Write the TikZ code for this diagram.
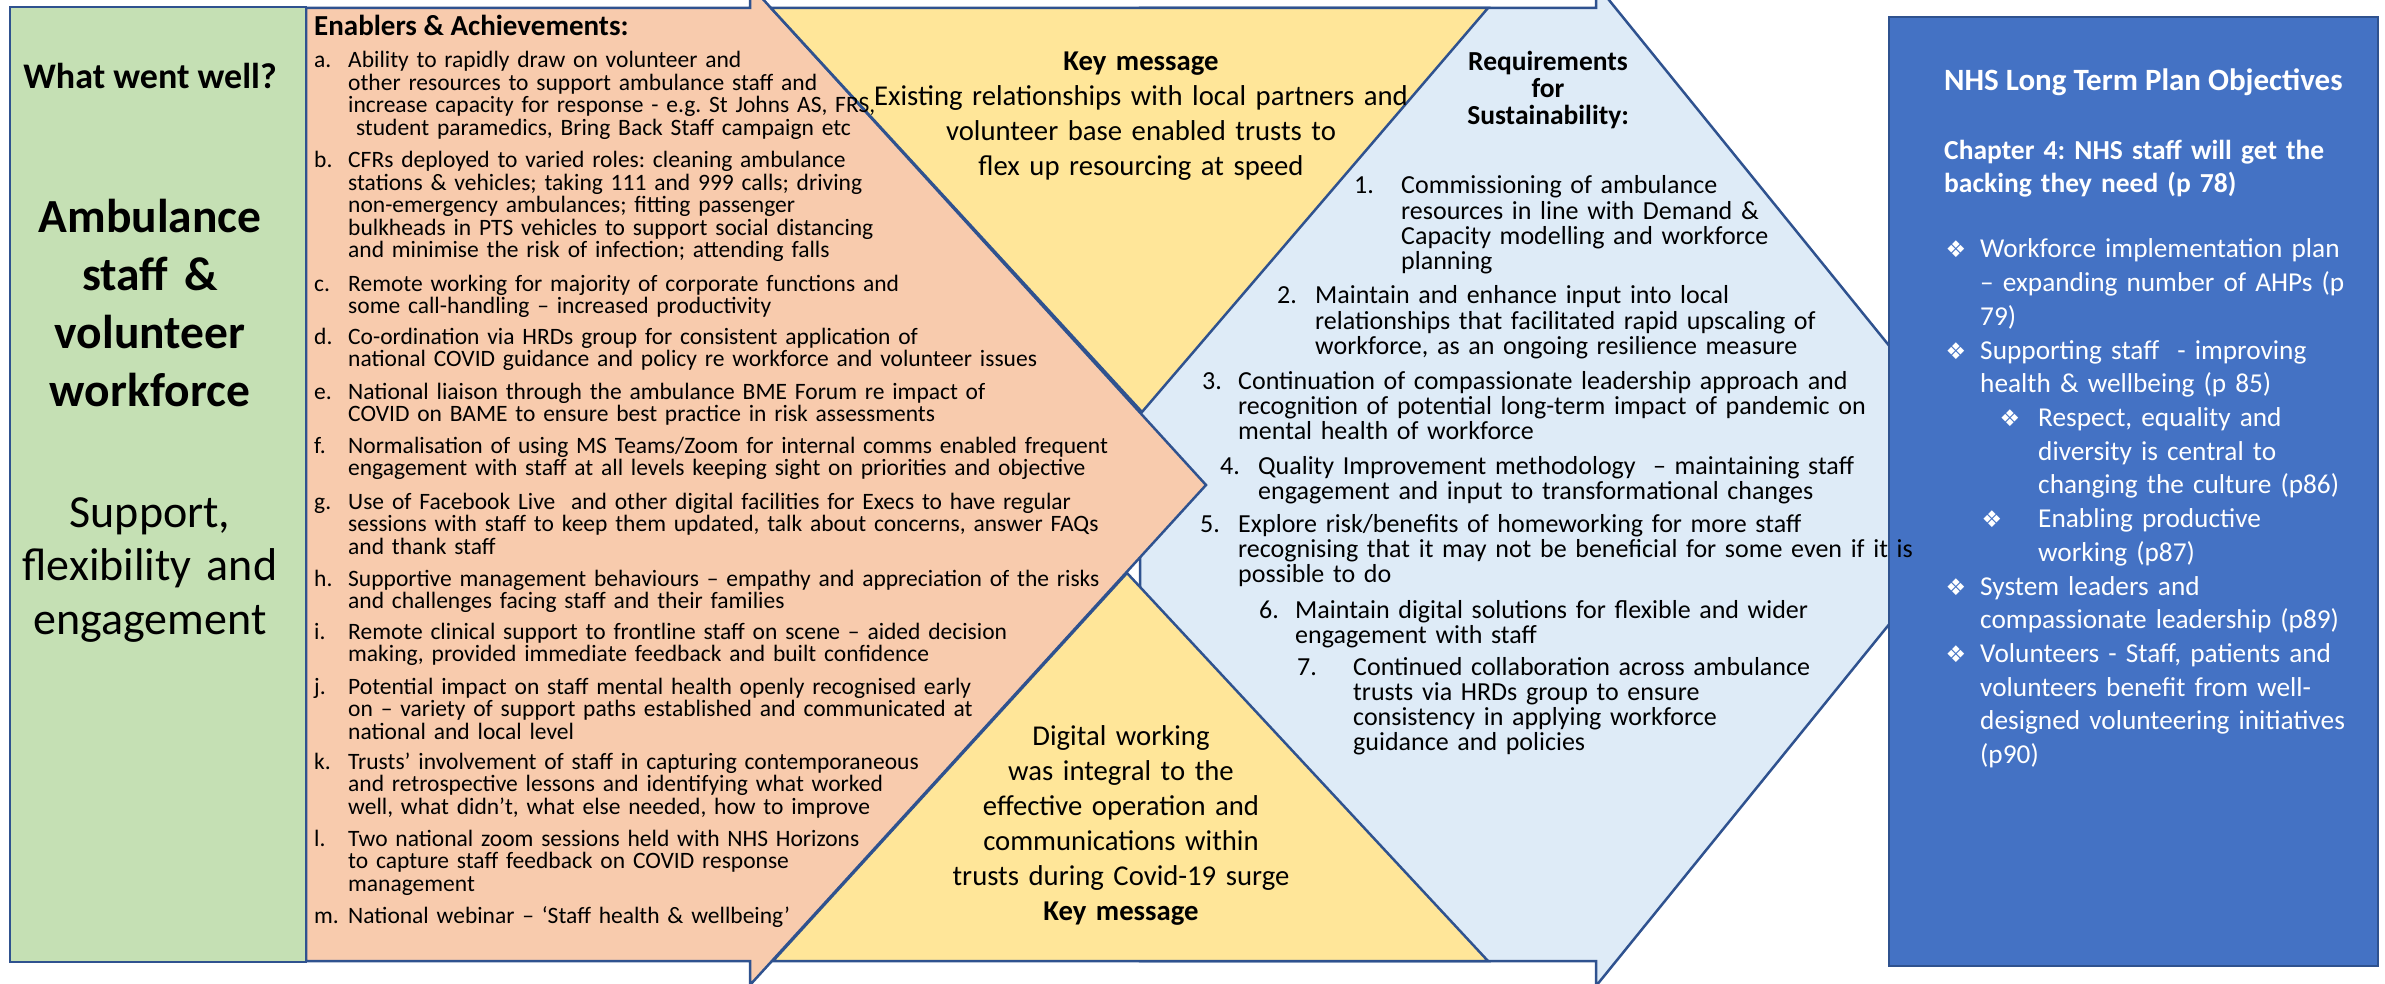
\documentclass[tikz,border=0pt]{standalone}
\usepackage{fontspec}
\setmainfont{Carlito}
\newfontfamily\dingfont{DejaVu Sans}
\usepackage{xcolor}
\usetikzlibrary{calc}
\definecolor{LeafGreen}{RGB}{197,224,180}
\definecolor{Peach}{RGB}{248,203,173}
\definecolor{Butter}{RGB}{255,230,153}
\definecolor{IceBlue}{RGB}{222,235,247}
\definecolor{NhsBlue}{RGB}{68,114,196}
\definecolor{EdgeBlue}{RGB}{47,82,143}
\lineskiplimit=-40pt
\frenchspacing

\begin{document}
\begin{tikzpicture}[x=1pt, y=-1pt,
		outline/.style={draw=EdgeBlue, line width=2.5pt, line join=miter},
		enlabel/.style={anchor=base west, inner sep=0pt, font=\fontsize{23.5}{22.5}\selectfont},
		enitem/.style={anchor=base west, text width=780pt, align=left, inner sep=0pt,
			font=\fontsize{23.5}{22.5}\selectfont},
		reqlabel/.style={anchor=base west, inner sep=0pt, font=\fontsize{26}{25.3}\selectfont},
		reqitem/.style={anchor=base west, text width=720pt, align=left, inner sep=0pt,
			font=\fontsize{26}{25.3}\selectfont},
		keytext/.style={anchor=base, text width=700pt, align=center, inner sep=0pt,
			font=\fontsize{28.7}{35}\selectfont},
		nhsitem/.style={anchor=base west, text width=420pt, align=left, inner sep=0pt, text=white,
			font=\fontsize{27.3}{33.7}\selectfont},
		nhsmark/.style={anchor=base, inner sep=0pt, text=white, font=\dingfont\fontsize{23}{24}\selectfont}
	]
		\useasboundingbox (0,0) rectangle (2385,984);
		\clip (0,0) rectangle (2385,984);
		
		\coordinate (BlueTip) at (2002,485);
		\coordinate (PeachTip) at (1206,485);
		
		\filldraw[outline, fill=IceBlue] (1140,8) -- (1596,8) -- (1596,-16) -- (BlueTip)
			-- (1596,986) -- (1596,961) -- (1140,961) -- cycle;
		\filldraw[outline, fill=Peach] (306,8) -- (750,8) -- (750,-15) -- (PeachTip)
			-- (750,985) -- (750,961) -- (306,961) -- cycle;
		\filldraw[outline, fill=Butter] (771,8) -- (1488,8) -- (1142,412) -- cycle;
		\filldraw[outline, fill=Butter] (773,961) -- (1488,961) -- (1127,573) -- cycle;
		\filldraw[outline, fill=LeafGreen] (10,7) rectangle (306,962);
		\filldraw[outline, fill=NhsBlue] (1889,17) rectangle (2378,966);
		
		\node[anchor=base, inner sep=0pt, font=\bfseries\fontsize{36}{40}\selectfont] (well) at (150,89) {What went well?};
		\node[anchor=base, text width=290pt, align=center, inner sep=0pt,
			font=\bfseries\fontsize{47.5}{58}\selectfont] (topic) at (150,233)
			{Ambulance\\staff \&\\volunteer\\workforce};
		\node[anchor=base, text width=290pt, align=center, inner sep=0pt,
			font=\fontsize{46}{53.5}\selectfont] (theme) at (150,527)
			{Support,\\flexibility and\\engagement};
		
		\node[anchor=base west, inner sep=0pt, font=\bfseries\fontsize{29}{32}\selectfont] (enhead) at (314,36) {Enablers \& Achievements:};
		\node[enlabel] (tagA) at (314,68) {a.};
		\node[enitem] (enA) at (348,68) {Ability to rapidly draw on volunteer and\\other resources to support ambulance staff and\\increase capacity for response - e.g. St Johns AS, FRS,\\~student paramedics, Bring Back Staff campaign etc};
		\node[enlabel] (tagB) at (314,168) {b.};
		\node[enitem] (enB) at (348,168) {CFRs deployed to varied roles: cleaning ambulance\\stations \& vehicles; taking 111 and 999 calls; driving\\non-emergency ambulances; fitting passenger\\bulkheads in PTS vehicles to support social distancing\\and minimise the risk of infection; attending falls};
		\node[enlabel] (tagC) at (314,291) {c.};
		\node[enitem] (enC) at (348,291) {Remote working for majority of corporate functions and\\some call-handling – increased productivity};
		\node[enlabel] (tagD) at (314,344) {d.};
		\node[enitem] (enD) at (348,344) {Co-ordination via HRDs group for consistent application of\\national COVID guidance and policy re workforce and volunteer issues};
		\node[enlabel] (tagE) at (314,399) {e.};
		\node[enitem] (enE) at (348,399) {National liaison through the ambulance BME Forum re impact of\\COVID on BAME to ensure best practice in risk assessments};
		\node[enlabel] (tagF) at (314,453) {f.};
		\node[enitem] (enF) at (348,453) {Normalisation of using MS Teams/Zoom for internal comms enabled frequent\\engagement with staff at all levels keeping sight on priorities and objective};
		\node[enlabel] (tagG) at (314,509) {g.};
		\node[enitem] (enG) at (348,509) {Use of Facebook Live~ and other digital facilities for Execs to have regular\\sessions with staff to keep them updated, talk about concerns, answer FAQs\\and thank staff};
		\node[enlabel] (tagH) at (314,586) {h.};
		\node[enitem] (enH) at (348,586) {Supportive management behaviours – empathy and appreciation of the risks\\and challenges facing staff and their families};
		\node[enlabel] (tagI) at (314,639) {i.};
		\node[enitem] (enI) at (348,639) {Remote clinical support to frontline staff on scene – aided decision\\making, provided immediate feedback and built confidence};
		\node[enlabel] (tagJ) at (314,694) {j.};
		\node[enitem] (enJ) at (348,694) {Potential impact on staff mental health openly recognised early\\on – variety of support paths established and communicated at\\national and local level};
		\node[enlabel] (tagK) at (314,769) {k.};
		\node[enitem] (enK) at (348,769) {Trusts’ involvement of staff in capturing contemporaneous\\and retrospective lessons and identifying what worked\\well, what didn’t, what else needed, how to improve};
		\node[enlabel] (tagL) at (314,846) {l.};
		\node[enitem] (enL) at (348,846) {Two national zoom sessions held with NHS Horizons\\to capture staff feedback on COVID response\\management};
		\node[enlabel] (tagM) at (314,923) {m.};
		\node[enitem] (enM) at (348,923) {National webinar – ‘Staff health \& wellbeing’};
		
		\node[keytext] (keyTop) at (1141,71) {\textbf{Key message}\\Existing relationships with local partners and\\volunteer base enabled trusts to\\flex up resourcing at speed};
		\node[keytext] (keyBottom) at (1121,745) {Digital working\\was integral to the\\effective operation and\\communications within\\trusts during Covid-19 surge\\\textbf{Key message}};
		
		\node[anchor=base, text width=300pt, align=center, inner sep=0pt,
			font=\bfseries\fontsize{27.5}{27}\selectfont] (reqhead) at (1548,71)
			{Requirements\\for\\Sustainability:};
		\node[reqlabel] (num1) at (1354,194) {1.};
		\node[reqitem] (req1) at (1401,194) {Commissioning of ambulance\\resources in line with Demand \&\\Capacity modelling and workforce\\planning};
		\node[reqlabel] (num2) at (1277,304) {2.};
		\node[reqitem] (req2) at (1315,304) {Maintain and enhance input into local\\relationships that facilitated rapid upscaling of\\workforce, as an ongoing resilience measure};
		\node[reqlabel] (num3) at (1202,389) {3.};
		\node[reqitem] (req3) at (1238,389) {Continuation of compassionate leadership approach and\\recognition of potential long-term impact of pandemic on\\mental health of workforce};
		\node[reqlabel] (num4) at (1220,474) {4.};
		\node[reqitem] (req4) at (1258,474) {Quality Improvement methodology~ – maintaining staff\\engagement and input to transformational changes};
		\node[reqlabel] (num5) at (1200,532) {5.};
		\node[reqitem] (req5) at (1238,532) {Explore risk/benefits of homeworking for more staff\\recognising that it may not be beneficial for some even if it is\\possible to do};
		\node[reqlabel] (num6) at (1259,618) {6.};
		\node[reqitem] (req6) at (1295,618) {Maintain digital solutions for flexible and wider\\engagement with staff};
		\node[reqlabel] (num7) at (1297,675) {7.};
		\node[reqitem] (req7) at (1353,675) {Continued collaboration across ambulance\\trusts via HRDs group to ensure\\consistency in applying workforce\\guidance and policies};
		
		\node[anchor=base west, inner sep=0pt, text=white, font=\bfseries\fontsize{31}{34}\selectfont] (ltp) at (1944,91) {NHS Long Term Plan Objectives};
		\node[anchor=base west, text width=420pt, align=left, inner sep=0pt, text=white,
			font=\bfseries\fontsize{27.5}{33}\selectfont] (chapter) at (1944,160)
			{Chapter 4: NHS staff will get the\\backing they need (p 78)};
		\node[nhsmark] (mk1) at (1956,258) {❖};
		\node[nhsitem] (obj1) at (1980,258) {Workforce implementation plan\\– expanding number of AHPs (p\\79)};
		\node[nhsmark] (mk2) at (1956,359) {❖};
		\node[nhsitem] (obj2) at (1980,359) {Supporting staff~ - improving\\health \& wellbeing (p 85)};
		\node[nhsmark] (mk3) at (2010,426.5) {❖};
		\node[nhsitem] (obj3) at (2038,426.5) {Respect, equality and\\diversity is central to\\changing the culture (p86)};
		\node[nhsmark] (mk4) at (1992,527.6) {❖};
		\node[nhsitem] (obj4) at (2038,527.6) {Enabling productive\\working (p87)};
		\node[nhsmark] (mk5) at (1956,595) {❖};
		\node[nhsitem] (obj5) at (1980,595) {System leaders and\\compassionate leadership (p89)};
		\node[nhsmark] (mk6) at (1956,662.4) {❖};
		\node[nhsitem] (obj6) at (1980,662.4) {Volunteers - Staff, patients and\\volunteers benefit from well-\\designed volunteering initiatives\\(p90)};
	\end{tikzpicture}
\end{document}
